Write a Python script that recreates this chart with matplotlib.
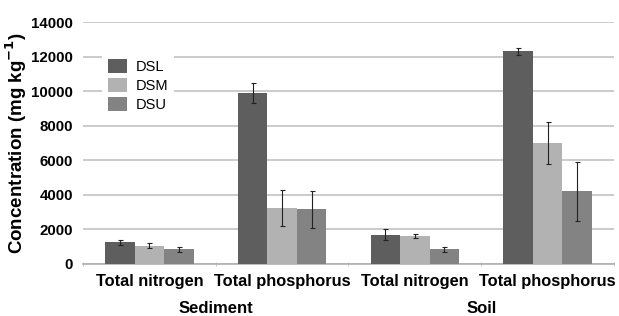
import numpy as np
import matplotlib.pyplot as plt
from matplotlib.transforms import blended_transform_factory

# Datos
categorias = ['Total nitrogen', 'Total phosphorus', 'Total nitrogen', 'Total phosphorus']
grupos = ['Sediment', 'Soil']
series = ['DSL', 'DSM', 'DSU']
dsl = [1250, 9900, 1700, 12300]
dsm = [1050, 3250, 1600, 7000]
dsu = [850, 3150, 850, 4200]
err_dsl = [150, 600, 300, 200]
err_dsm = [150, 1050, 120, 1200]
err_dsu = [150, 1050, 150, 1700]

colores = ['#5e5e5e', '#b2b2b2', '#838383']

plt.rcParams['font.family'] = ['Liberation Sans', 'DejaVu Sans']

fig = plt.figure(figsize=(6.19, 3.16), dpi=100)
ax = fig.add_axes([0.134, 0.165, 0.858, 0.765])

x = np.arange(len(categorias))
ancho = 0.222
valores = [dsl, dsm, dsu]
errores = [err_dsl, err_dsm, err_dsu]
for i in range(3):
    ax.bar(x + (i - 1) * ancho, valores[i], ancho, color=colores[i], label=series[i],
           yerr=errores[i], error_kw=dict(ecolor='#222222', elinewidth=0.8, capsize=1.8, capthick=0.8),
           zorder=3)

ax.set_xlim(-0.5, 3.5)
ax.set_ylim(0, 14000)
ax.set_yticks(np.arange(0, 14001, 2000))
ax.grid(axis='y', color='#c2c2c2', linewidth=1.2, zorder=0)
ax.set_axisbelow(True)
for s in ['left', 'right', 'top']:
    ax.spines[s].set_visible(False)
ax.spines['bottom'].set_color('#b0b0b0')
ax.spines['bottom'].set_linewidth(1.2)

ax.set_xticks(x)
ax.set_xticklabels(categorias, fontsize=11.8, fontweight='bold')
ax.tick_params(axis='x', length=0, pad=7)
ax.set_xticks(np.arange(-0.5, 3.6, 1), minor=True)
ax.tick_params(axis='x', which='minor', length=3, direction='inout', color='#c0c0c0')
ax.tick_params(axis='y', length=0, pad=7, labelsize=10.8)
for t in ax.get_yticklabels():
    t.set_fontweight('bold')

ax.set_ylabel('Concentration (mg kg$^{\\mathbf{-1}}$)', fontsize=13.5, fontweight='bold', labelpad=2)

trans = blended_transform_factory(ax.transData, ax.transAxes)
for j, g in enumerate(grupos):
    ax.text(2 * j + 0.5, -0.186, g, transform=trans, ha='center', va='center',
            fontsize=12, fontweight='bold')

leg = ax.legend(loc='upper left', bbox_to_anchor=(0.036, 0.873), borderaxespad=0,
                borderpad=0.4, frameon=True, fancybox=False, edgecolor='none',
                facecolor='white', framealpha=1, fontsize=10.5, handlelength=1.3,
                handleheight=1.1, labelspacing=0.3, handletextpad=0.6)

plt.savefig('out.png', dpi=100)
